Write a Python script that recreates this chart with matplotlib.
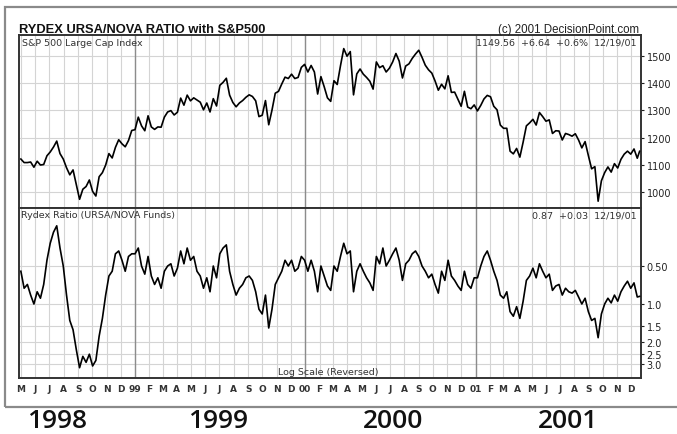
import matplotlib
matplotlib.use("Agg")
import matplotlib.pyplot as plt
from matplotlib.patches import Rectangle
from matplotlib.ticker import FixedLocator, NullLocator, NullFormatter
import pandas as pd

# ===================== DATOS (semanales) =====================
sp500_1998 = [1121, 1108, 1108, 1110, 1091, 1113, 1099, 1101, 1133, 1147, 1165, 1187,
              1141, 1121, 1089, 1063, 1081, 1027, 973, 1010, 1020, 1044, 1002, 985,
              1056, 1071, 1099, 1141, 1125, 1164, 1192, 1177, 1166, 1189, 1226]
sp500_1999 = [1229, 1275, 1243, 1225, 1280, 1239, 1230, 1239, 1238, 1275, 1294, 1299,
              1283, 1293, 1345, 1319, 1356, 1335, 1346, 1338, 1330, 1302, 1327, 1294,
              1343, 1316, 1392, 1403, 1418, 1356, 1329, 1313, 1327, 1336, 1348, 1357,
              1351, 1335, 1277, 1282, 1336, 1247, 1301, 1363, 1370, 1397, 1422, 1417,
              1433, 1417, 1421, 1458, 1469]
sp500_2000 = [1441, 1465, 1441, 1360, 1424, 1387, 1346, 1333, 1409, 1395, 1464, 1527,
              1499, 1516, 1357, 1434, 1452, 1433, 1421, 1407, 1378, 1478, 1457, 1464,
              1441, 1455, 1478, 1509, 1481, 1419, 1463, 1471, 1491, 1507, 1521, 1495,
              1466, 1449, 1437, 1408, 1374, 1396, 1379, 1427, 1366, 1367, 1341, 1315,
              1370, 1312, 1306, 1320]
sp500_2001 = [1298, 1318, 1342, 1355, 1350, 1315, 1302, 1246, 1234, 1234, 1150, 1140,
              1160, 1128, 1183, 1243, 1254, 1267, 1246, 1292, 1277, 1260, 1265, 1215,
              1225, 1224, 1191, 1215, 1211, 1205, 1214, 1191, 1162, 1185, 1134, 1085,
              1093, 966, 1041, 1071, 1092, 1073, 1104, 1088, 1120, 1139, 1150, 1139,
              1158, 1124, 1149.56]

ratio_1998 = [0.55, 0.75, 0.70, 0.85, 1.00, 0.80, 0.90, 0.70, 0.45, 0.33, 0.27, 0.24,
              0.36, 0.50, 0.85, 1.35, 1.60, 2.30, 3.20, 2.60, 2.90, 2.50, 3.10, 2.80,
              1.80, 1.30, 0.85, 0.60, 0.55, 0.40, 0.38, 0.45, 0.55, 0.42, 0.40]
ratio_1999 = [0.40, 0.36, 0.50, 0.58, 0.42, 0.60, 0.70, 0.62, 0.75, 0.55, 0.50, 0.48,
              0.60, 0.52, 0.38, 0.48, 0.36, 0.45, 0.42, 0.55, 0.60, 0.75, 0.62, 0.80,
              0.50, 0.62, 0.40, 0.36, 0.34, 0.55, 0.70, 0.85, 0.75, 0.70, 0.62, 0.60,
              0.65, 0.80, 1.10, 1.20, 0.85, 1.55, 1.10, 0.70, 0.62, 0.55, 0.45, 0.50,
              0.45, 0.55, 0.52, 0.42, 0.45]
ratio_2000 = [0.55, 0.45, 0.55, 0.80, 0.50, 0.60, 0.72, 0.78, 0.50, 0.55, 0.42, 0.33,
              0.40, 0.38, 0.80, 0.55, 0.48, 0.55, 0.62, 0.68, 0.78, 0.42, 0.48, 0.36,
              0.50, 0.45, 0.40, 0.36, 0.45, 0.65, 0.48, 0.45, 0.40, 0.38, 0.42, 0.50,
              0.55, 0.62, 0.58, 0.70, 0.82, 0.55, 0.65, 0.45, 0.60, 0.65, 0.72, 0.78,
              0.55, 0.70, 0.75, 0.62]
ratio_2001 = [0.62, 0.50, 0.42, 0.38, 0.45, 0.55, 0.65, 0.85, 0.90, 0.80, 1.15, 1.25,
              1.05, 1.30, 0.95, 0.65, 0.60, 0.52, 0.62, 0.48, 0.55, 0.62, 0.58, 0.78,
              0.72, 0.70, 0.85, 0.75, 0.80, 0.82, 0.78, 0.88, 1.00, 0.90, 1.15, 1.35,
              1.30, 1.85, 1.20, 1.00, 0.90, 0.98, 0.85, 0.95, 0.80, 0.72, 0.66, 0.75,
              0.68, 0.88, 0.87]

sp_ticks = [1000, 1100, 1200, 1300, 1400, 1500]
ratio_ticks = [0.5, 1.0, 1.5, 2.0, 2.5, 3.0]
ratio_tick_labels = ['0.50', '1.0', '1.5', '2.0', '2.5', '3.0']
month_letters = ['J', 'F', 'M', 'A', 'M', 'J', 'J', 'A', 'S', 'O', 'N', 'D']
year_labels = ['1998', '1999', '2000', '2001']

fechas = list(pd.date_range('1998-05-01', '2001-12-14', freq='W-FRI')) + [pd.Timestamp('2001-12-19')]
sp500 = sp500_1998 + sp500_1999 + sp500_2000 + sp500_2001
ratio = ratio_1998 + ratio_1999 + ratio_2000 + ratio_2001

meses = pd.date_range('1998-05-01', '2001-12-01', freq='MS')
etiquetas_mes = [m.strftime('%y') if m.month == 1 else month_letters[m.month - 1] for m in meses]
anios = [m for m in meses if m.month == 1]

# ===================== FIGURA =====================
W, H = 677, 435


def fx(x):
    return x / W


def fy(y):
    return 1 - y / H


fig = plt.figure(figsize=(W / 100, H / 100), dpi=100)
fig.patch.set_facecolor('white')

# marco exterior gris
fig.add_artist(Rectangle((fx(5), fy(408)), fx(700) - fx(5), fy(8) - fy(408),
                         transform=fig.transFigure, fill=False, ec='#8a8a8a', lw=1.6))

ax1 = fig.add_axes([fx(19), fy(209), fx(641) - fx(19), fy(36) - fy(209)])
ax2 = fig.add_axes([fx(19), fy(379), fx(641) - fx(19), fy(209) - fy(379)])

x0, x1 = pd.Timestamp('1998-04-27'), pd.Timestamp('2001-12-22')

for ax in (ax1, ax2):
    ax.set_xlim(x0, x1)
    for m in meses:
        ax.axvline(m, color='#d4d4d4', lw=0.8, zorder=0)
    for a in anios:
        ax.axvline(a, color='#8c8c8c', lw=1.0, zorder=1)
    for s in ax.spines.values():
        s.set_color('#333333')
        s.set_linewidth(1.4)
    ax.yaxis.tick_right()
    ax.tick_params(axis='y', direction='out', length=2.5, width=0.8, pad=1.5,
                   labelsize=7, colors='#222222')

# panel superior: S&P 500
ax1.plot(fechas, sp500, color='black', lw=1.2, zorder=3)
ax1.set_ylim(941, 1577)
ax1.yaxis.set_major_locator(FixedLocator(sp_ticks))
for v in sp_ticks:
    ax1.axhline(v, color='#d4d4d4', lw=0.8, zorder=0)
ax1.set_xticks([])

# panel inferior: ratio Rydex (log invertida)
ax2.plot(fechas, ratio, color='black', lw=1.2, zorder=3)
ax2.set_yscale('log')
ax2.set_ylim(3.86, 0.1734)
ax2.yaxis.set_major_locator(FixedLocator(ratio_ticks))
ax2.set_yticklabels(ratio_tick_labels)
ax2.yaxis.set_minor_locator(NullLocator())
ax2.yaxis.set_minor_formatter(NullFormatter())
for v in ratio_ticks:
    ax2.axhline(v, color='#d4d4d4', lw=0.8, zorder=0)
ax2.set_xticks(meses)
ax2.set_xticklabels(etiquetas_mes)
ax2.tick_params(axis='x', length=0, pad=4, labelsize=6.5, colors='#333333')
for t in ax2.get_xticklabels():
    t.set_fontweight('bold')

# textos
fig.text(fx(19), fy(33), 'RYDEX URSA/NOVA RATIO with S&P500', fontsize=9.3,
         fontweight='bold', family='Liberation Sans', color='#111111', va='baseline')
fig.text(fx(639), fy(33), '(c) 2001 DecisionPoint.com', fontsize=8.3,
         family='Liberation Sans', color='#222222', ha='right', va='baseline')
fig.text(fx(22), fy(43), 'S&P 500 Large Cap Index', fontsize=6.8, color='#333333', va='center')
fig.text(fx(637), fy(43), '1149.56  +6.64  +0.6%  12/19/01', fontsize=6.8,
         color='#333333', ha='right', va='center')
fig.text(fx(21), fy(216), 'Rydex Ratio (URSA/NOVA Funds)', fontsize=6.8, color='#333333', va='center')
fig.text(fx(637), fy(216), '0.87  +0.03  12/19/01', fontsize=6.8,
         color='#333333', ha='right', va='center')
fig.text(fx(328), fy(373), 'Log Scale (Reversed)', fontsize=6.8, color='#333333',
         ha='center', va='center')

for etiqueta, xc in zip(year_labels, [57, 218, 393, 568]):
    fig.text(fx(xc), fy(422), etiqueta, fontsize=19, family='Open Sans',
             fontweight='semibold', color='#111111', ha='center', va='center')

fig.savefig('out.png', dpi=100, facecolor=fig.get_facecolor())
